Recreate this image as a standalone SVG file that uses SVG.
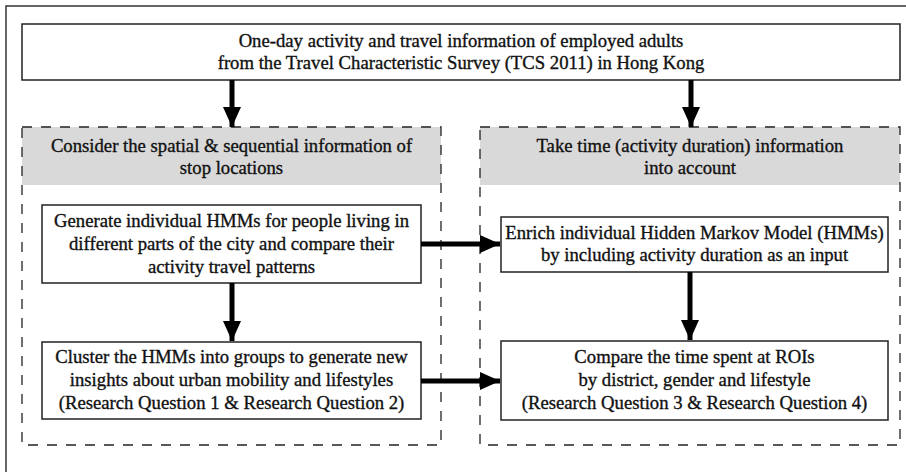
<svg xmlns="http://www.w3.org/2000/svg" width="906" height="472" viewBox="0 0 906 472">
<style>
.frame{fill:none;stroke:#333;stroke-width:1.5}
.box{fill:#fff;stroke:#222;stroke-width:1.5}
.grp{fill:none;stroke:#222;stroke-width:1.3;stroke-dasharray:10 9}
.hdr{fill:#d9d9d9;stroke:none}
text{font-family:"Liberation Serif","Times New Roman",serif;font-size:18.7px;fill:#111;stroke:#111;stroke-width:0.35;text-anchor:middle}
.conn line{stroke:#000;stroke-width:5}
</style>
<defs>
<marker id="ah" viewBox="0 0 20 18" refX="20" refY="9" markerWidth="20" markerHeight="18" markerUnits="userSpaceOnUse" orient="auto">
<path d="M0,0 L20,9 L0,18 Z" fill="#000"/>
</marker>
</defs>
<rect class="frame" x="6" y="6" width="920" height="490"/>
<g id="source">
<rect class="box" x="22" y="24" width="878" height="56"/>
<text x="461" y="47">One-day activity and travel information of employed adults</text>
<text x="461" y="69">from the Travel Characteristic Survey (TCS 2011) in Hong Kong</text>
</g>
<g id="group-left">
<rect class="hdr" x="22" y="127" width="419" height="58"/>
<rect class="grp" x="22" y="127" width="419" height="318"/>
<text x="231.5" y="152">Consider the spatial &amp; sequential information of</text>
<text x="231.5" y="174">stop locations</text>
</g>
<g id="group-right">
<rect class="hdr" x="480" y="127" width="420" height="58"/>
<rect class="grp" x="480" y="127" width="420" height="318"/>
<text x="690" y="152">Take time (activity duration) information</text>
<text x="690" y="174">into account</text>
</g>
<g id="generate">
<rect class="box" x="42" y="205" width="379" height="78"/>
<text x="231.5" y="227">Generate individual HMMs for people living in</text>
<text x="231.5" y="250">different parts of the city and compare their</text>
<text x="231.5" y="273">activity travel patterns</text>
</g>
<g id="cluster">
<rect class="box" x="42" y="342" width="379" height="77"/>
<text x="231.5" y="363">Cluster the HMMs into groups to generate new</text>
<text x="231.5" y="386">insights about urban mobility and lifestyles</text>
<text x="231.5" y="409">(Research Question 1 &amp; Research Question 2)</text>
</g>
<g id="enrich">
<rect class="box" x="501" y="217" width="387" height="55"/>
<text x="694.5" y="239">Enrich individual Hidden Markov Model (HMMs)</text>
<text x="694.5" y="261">by including activity duration as an input</text>
</g>
<g id="compare">
<rect class="box" x="501" y="341" width="387" height="79"/>
<text x="694.5" y="363">Compare the time spent at ROIs</text>
<text x="694.5" y="386">by district, gender and lifestyle</text>
<text x="694.5" y="409">(Research Question 3 &amp; Research Question 4)</text>
</g>
<g class="conn" id="connectors">
<line x1="232" y1="80" x2="232" y2="127" marker-end="url(#ah)"/>
<line x1="691" y1="80" x2="691" y2="127" marker-end="url(#ah)"/>
<line x1="232" y1="283" x2="232" y2="341" marker-end="url(#ah)"/>
<line x1="690" y1="272" x2="690" y2="340" marker-end="url(#ah)"/>
<line x1="421" y1="244" x2="500" y2="244" marker-end="url(#ah)"/>
<line x1="421" y1="381" x2="500" y2="381" marker-end="url(#ah)"/>
</g>
</svg>
